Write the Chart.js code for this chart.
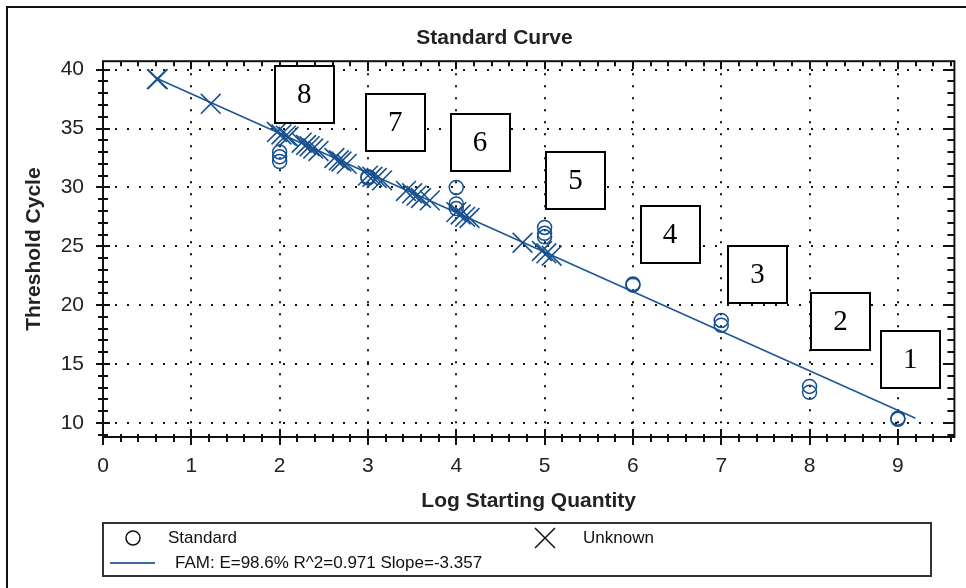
<!DOCTYPE html>
<html>
<head>
<meta charset="utf-8">
<title>Standard Curve</title>
<script src="https://cdn.jsdelivr.net/npm/chart.js"></script>
<style>
  html, body { margin: 0; padding: 0; background: #fff; overflow: hidden; }
  #wrap { position: relative; width: 966px; height: 588px; overflow: hidden; }
  #frame { position: absolute; left: 6px; top: 6px; width: 980px; height: 600px;
           border-left: 2px solid #111; border-top: 2px solid #111; }
  canvas { position: absolute; left: 0; top: 0; }
</style>
</head>
<body>
<div id="wrap">
  <div id="frame"></div>
  <canvas id="curve" width="970" height="588"></canvas>
</div>
<script>
// standards (log quantity, Ct)
const standardX  = [2, 2, 2, 3, 3, 4, 4, 4, 5, 5, 5, 6, 6, 7, 7, 8, 8, 9, 9];
const standardCt = [32.2, 32.6, 33.0, 30.8, 30.9, 30.0, 28.6, 28.2, 26.6, 26.1, 25.8, 21.7, 21.8, 18.7, 18.3, 13.1, 12.6, 10.3, 10.4];

// unknowns
const unknownX  = [0.61, 0.62, 1.22, 1.97, 2.02, 2.07, 2.10, 2.25, 2.30, 2.34, 2.38, 2.44,
                   2.62, 2.67, 2.70, 2.76, 3.00, 3.05, 3.10, 3.16, 3.43, 3.50, 3.55, 3.60,
                   3.70, 4.00, 4.05, 4.10, 4.15, 4.75, 4.97, 5.02, 5.08];
const unknownCt = [39.2, 39.2, 37.1, 34.7, 34.5, 34.4, 34.3, 33.8, 33.6, 33.5, 33.3, 33.1,
                   32.5, 32.3, 32.2, 32.0, 31.0, 30.9, 30.8, 30.6, 29.7, 29.5, 29.3, 29.1,
                   28.9, 27.9, 27.7, 27.5, 27.4, 25.3, 24.6, 24.4, 24.2];

// regression line end points
const fitX  = [0.6, 9.2];
const fitCt = [39.3, 10.4];

const xTickLabels = [0, 1, 2, 3, 4, 5, 6, 7, 8, 9];
const yTickLabels = [10, 15, 20, 25, 30, 35, 40];

// dilution labels placed on the plot
const boxTexts = ['1', '2', '3', '4', '5', '6', '7', '8'];
const boxX  = [9.14, 8.35, 7.41, 6.42, 5.35, 4.27, 3.31, 2.28];
const boxCt = [15.4, 18.6, 22.6, 26.0, 30.6, 33.85, 35.5, 37.9];

const blue = '#17508f';
const sans = "'Liberation Sans', Arial, sans-serif";

function toPoints(xs, ys) {
    return xs.map((x, i) => ({ x: x, y: ys[i] }));
}
function isWhole(v) {
    return Math.abs(v - Math.round(v)) < 1e-6;
}

const framePlugin = {
    id: 'frame',
    beforeDatasetsDraw(chart) {
        const ctx = chart.ctx;
        const { left, right, top, bottom } = chart.chartArea;
        const xs = chart.scales.x, ys = chart.scales.y;
        ctx.save();
        ctx.strokeStyle = '#111';
        ctx.lineWidth = 2;
        ctx.beginPath();
        xs.ticks.forEach(t => {
            const px = Math.round(xs.getPixelForValue(t.value));
            const major = isWhole(t.value);
            ctx.moveTo(px, bottom - (major ? 8 : 3));
            ctx.lineTo(px, bottom + (major ? 8 : 5));
            ctx.moveTo(px, top);
            ctx.lineTo(px, top + (major ? 8 : 5));
        });
        ys.ticks.forEach(t => {
            const py = Math.round(ys.getPixelForValue(t.value));
            const major = Math.round(t.value) % 5 === 0;
            ctx.moveTo(left - (major ? 7 : 5), py);
            ctx.lineTo(left + (major ? 7 : 5), py);
            ctx.moveTo(right - (major ? 10 : 7), py);
            ctx.lineTo(right, py);
        });
        ctx.stroke();
        ctx.strokeRect(left, top, right - left, bottom - top);
        ctx.restore();
    },
    afterDraw(chart) {
        const ctx = chart.ctx;
        const xs = chart.scales.x, ys = chart.scales.y;
        const left = chart.chartArea.left;
        ctx.save();

        // numbered boxes
        ctx.font = "29px 'Liberation Serif', 'Times New Roman', serif";
        ctx.textAlign = 'center';
        ctx.textBaseline = 'middle';
        boxTexts.forEach((txt, i) => {
            const cx = xs.getPixelForValue(boxX[i]);
            const cy = ys.getPixelForValue(boxCt[i]);
            const bx = Math.round(cx - 29.5), by = Math.round(cy - 28.5);
            ctx.fillStyle = '#fff';
            ctx.fillRect(bx, by, 59, 57);
            ctx.strokeStyle = '#000';
            ctx.lineWidth = 2;
            ctx.strokeRect(bx, by, 59, 57);
            ctx.fillStyle = '#000';
            ctx.fillText(txt, cx, cy + 1);
        });

        // legend box
        const ds = chart.data.datasets;
        const lx = left, ly = 523, lw = 828, lh = 53;
        ctx.strokeStyle = '#333';
        ctx.lineWidth = 2;
        ctx.strokeRect(lx, ly, lw, lh);
        ctx.font = '17px ' + sans;
        ctx.textAlign = 'left';
        ctx.fillStyle = '#111';
        ctx.strokeStyle = '#111';
        ctx.lineWidth = 1.5;
        ctx.beginPath();
        ctx.arc(lx + 30, ly + 15, 7, 0, Math.PI * 2);
        ctx.stroke();
        ctx.fillText(ds[0].label, lx + 65, ly + 15);
        ctx.beginPath();
        ctx.moveTo(lx + 432, ly + 5);  ctx.lineTo(lx + 452, ly + 25);
        ctx.moveTo(lx + 452, ly + 5);  ctx.lineTo(lx + 432, ly + 25);
        ctx.stroke();
        ctx.fillText(ds[1].label, lx + 480, ly + 15);
        ctx.strokeStyle = '#3a6aa6';
        ctx.lineWidth = 2;
        ctx.beginPath();
        ctx.moveTo(lx + 7, ly + 40); ctx.lineTo(lx + 52, ly + 40);
        ctx.stroke();
        ctx.fillText(ds[2].label, lx + 72, ly + 40);
        ctx.restore();
    }
};

new Chart(document.getElementById('curve').getContext('2d'), {
    type: 'scatter',
    data: {
        datasets: [
            {
                label: 'Standard',
                data: toPoints(standardX, standardCt),
                pointStyle: 'circle',
                pointRadius: 7,
                borderWidth: 1.5,
                borderColor: blue,
                backgroundColor: 'rgba(0,0,0,0)'
            },
            {
                label: 'Unknown',
                data: toPoints(unknownX, unknownCt),
                pointStyle: 'crossRot',
                pointRadius: 14,
                borderWidth: 1.6,
                borderColor: blue,
                backgroundColor: blue
            },
            {
                label: 'FAM: E=98.6% R^2=0.971 Slope=-3.357',
                data: toPoints(fitX, fitCt),
                showLine: true,
                pointRadius: 0,
                borderWidth: 1.6,
                borderColor: '#1d5796'
            }
        ]
    },
    options: {
        responsive: false,
        animation: false,
        layout: { padding: { left: 27, right: 8, top: 0, bottom: 0 } },
        plugins: {
            legend: { display: false },
            tooltip: { enabled: false },
            title: {
                display: true,
                text: 'Standard Curve',
                color: '#222',
                font: { family: sans, size: 21, weight: 'bold' },
                padding: { top: 26, bottom: 10 }
            }
        },
        scales: {
            x: {
                type: 'linear',
                min: 0,
                max: 9.64,
                afterFit: s => { s.height = 151; },
                ticks: {
                    stepSize: 0.2,
                    autoSkip: false,
                    includeBounds: false,
                    maxRotation: 0,
                    padding: 17,
                    color: '#222',
                    font: { family: sans, size: 21 },
                    callback: v => (isWhole(v) && xTickLabels.includes(Math.round(v))) ? String(Math.round(v)) : ''
                },
                grid: {
                    drawTicks: false,
                    lineWidth: 2,
                    color: c => (c.tick && isWhole(c.tick.value) && c.tick.value > 0) ? '#111' : 'rgba(0,0,0,0)'
                },
                border: { display: false, dash: [2, 10] },
                title: {
                    display: true,
                    text: 'Log Starting Quantity',
                    color: '#222',
                    font: { family: sans, size: 21, weight: 'bold' },
                    padding: { top: 0, bottom: 74 }
                }
            },
            y: {
                type: 'linear',
                min: 8.8,
                max: 40.72,
                afterFit: s => { s.width = 76; },
                ticks: {
                    stepSize: 1,
                    autoSkip: false,
                    includeBounds: false,
                    padding: 19,
                    color: '#222',
                    font: { family: sans, size: 21 },
                    callback: v => yTickLabels.includes(Math.round(v)) && isWhole(v) ? String(Math.round(v)) : ''
                },
                grid: {
                    drawTicks: false,
                    lineWidth: 2,
                    color: c => (c.tick && yTickLabels.includes(Math.round(c.tick.value)) && isWhole(c.tick.value)) ? '#111' : 'rgba(0,0,0,0)'
                },
                border: { display: false, dash: [2, 10] },
                title: {
                    display: true,
                    text: 'Threshold Cycle',
                    color: '#222',
                    font: { family: sans, size: 21, weight: 'bold', lineHeight: 0.7 },
                    padding: { top: 0, bottom: 0 }
                }
            }
        }
    },
    plugins: [framePlugin]
});
</script>
</body>
</html>
